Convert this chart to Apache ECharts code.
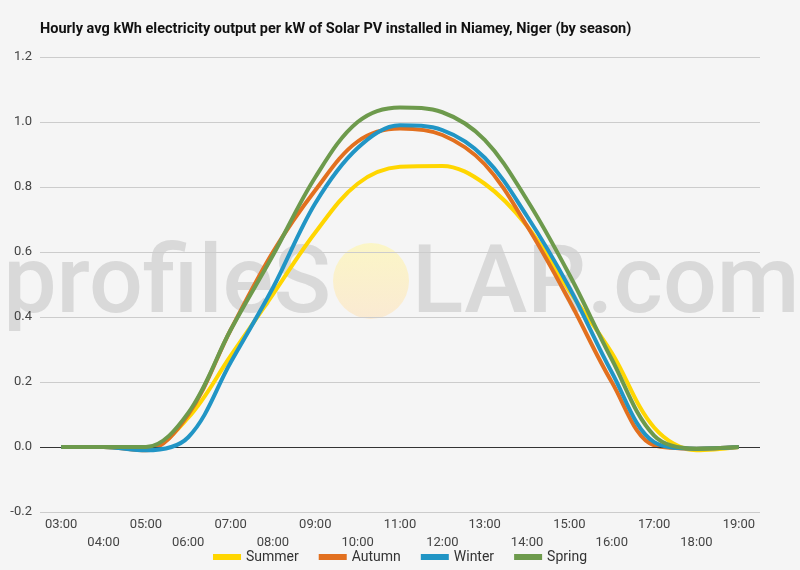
<!DOCTYPE html>
<html>
<head>
<meta charset="utf-8">
<script src="https://cdn.jsdelivr.net/npm/echarts@6/dist/echarts.min.js"></script>
<style>
  html, body { margin: 0; padding: 0; background: #f5f5f5; }
  #chart { width: 800px; height: 570px; }
</style>
</head>
<body>
<div id="chart"></div>
<script>
// hourly categories
const hours = ["03:00", "04:00", "05:00", "06:00", "07:00", "08:00", "09:00", "10:00", "11:00",
  "12:00", "13:00", "14:00", "15:00", "16:00", "17:00", "18:00", "19:00"];

// kWh per kW
const summer = [0, 0, -0.005, 0.09, 0.28, 0.47, 0.66, 0.81, 0.862, 0.865, 0.81, 0.68, 0.48, 0.29, 0.06, -0.01, 0];
const autumn = [0, 0, -0.01, 0.10, 0.36, 0.60, 0.79, 0.94, 0.98, 0.96, 0.87, 0.68, 0.45, 0.20, 0.005, -0.005, 0];
const winter = [0, 0, -0.01, 0.03, 0.26, 0.49, 0.75, 0.92, 0.99, 0.975, 0.89, 0.71, 0.49, 0.23, 0.015, -0.005, 0];
const spring = [0, 0, 0, 0.105, 0.36, 0.59, 0.83, 1.0, 1.045, 1.03, 0.945, 0.76, 0.53, 0.27, 0.035, -0.005, 0];

const seasons = ["Summer", "Autumn", "Winter", "Spring"];
const colors = ["#ffd600", "#e2701f", "#2195c5", "#6d9a4c"];

const chart = echarts.init(document.getElementById("chart"));

const mkSeries = (name, data, i) => ({
  name: name,
  type: "line",
  data: data,
  smooth: 0.35,
  symbol: "none",
  lineStyle: { width: 4, color: colors[i] },
  itemStyle: { color: colors[i] },
  z: 3 + i
});

const series = [summer, autumn, winter, spring].map((d, i) => mkSeries(seasons[i], d, i));
// dark zero line
series[0].markLine = {
  silent: true,
  symbol: "none",
  label: { show: false },
  lineStyle: { color: "#333", width: 1, type: "solid" },
  data: [{ yAxis: 0 }]
};

const wmFill = "rgba(190,190,190,0.5)";

chart.setOption({
  backgroundColor: "#f5f5f5",
  title: {
    text: "Hourly avg kWh electricity output per kW of Solar PV installed in Niamey, Niger (by season)",
    left: 35,
    top: 17,
    textStyle: { fontFamily: "Roboto", fontWeight: "bold", fontSize: 14.5, color: "#111" }
  },
  graphic: [
    {
      type: "text", z: -10,
      style: { x: 331, y: 288, text: "profileS", textAlign: "right", textVerticalAlign: "middle",
        font: "500 95px Roboto", fill: wmFill }
    },
    {
      type: "circle", z: -10,
      shape: { cx: 371, cy: 281, r: 38 },
      style: {
        fill: new echarts.graphic.LinearGradient(0, 0, 0, 1, [
          { offset: 0, color: "rgba(252,246,190,0.85)" },
          { offset: 1, color: "rgba(251,232,205,0.85)" }
        ])
      }
    },
    {
      type: "text", z: -10,
      style: { x: 412, y: 288, text: "LAR.com", textAlign: "left", textVerticalAlign: "middle",
        font: "500 95px Roboto", fill: wmFill }
    }
  ],
  legend: {
    bottom: 1,
    left: "center",
    data: seasons,
    icon: "rect",
    itemWidth: 28,
    itemHeight: 6,
    itemGap: 20,
    textStyle: { fontFamily: "Roboto", fontSize: 14, color: "#333" }
  },
  grid: { left: 40, right: 40, top: 57, bottom: 58 },
  xAxis: {
    type: "category",
    data: hours,
    boundaryGap: true,
    axisLine: { show: false },
    axisTick: { show: false },
    axisLabel: {
      interval: 0,
      margin: 4,
      lineHeight: 18,
      fontFamily: "Roboto",
      fontSize: 13,
      color: "#444",
      formatter: (v, i) => (i % 2 === 1 ? "\n" + v : v)
    }
  },
  yAxis: {
    type: "value",
    min: -0.2,
    max: 1.2,
    interval: 0.2,
    axisLine: { show: false },
    axisTick: { show: false },
    axisLabel: {
      margin: 8,
      fontFamily: "Roboto",
      fontSize: 13,
      color: "#444",
      formatter: v => v.toFixed(1)
    },
    splitLine: { lineStyle: { color: "#cccccc", width: 1 } }
  },
  series: series
});
</script>
</body>
</html>
